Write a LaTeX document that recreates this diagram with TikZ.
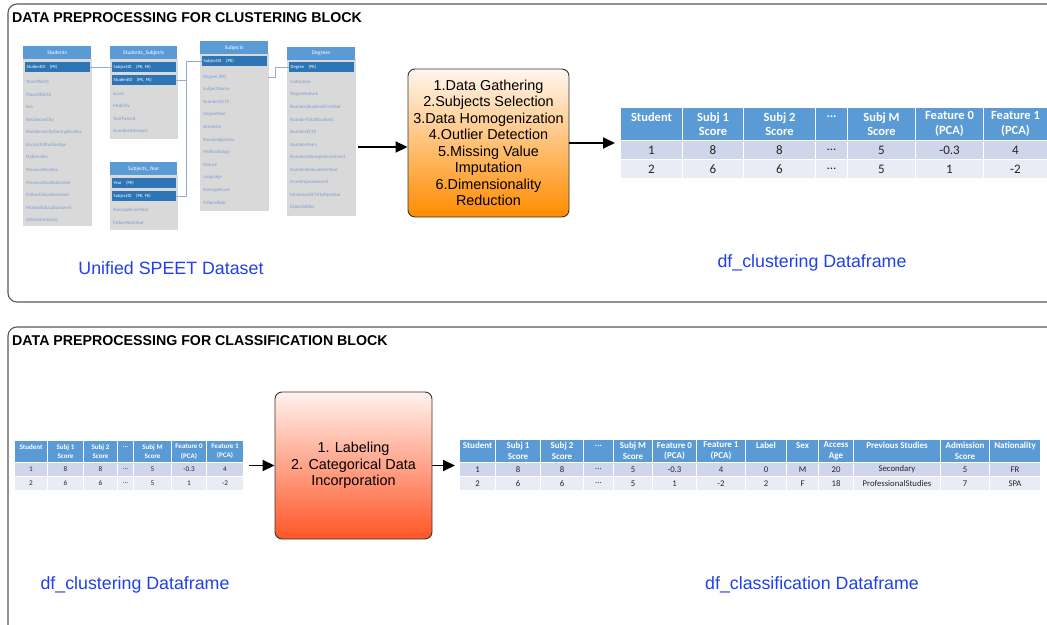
\documentclass[tikz,border=0pt]{standalone}
\usepackage{fontspec}
\setmainfont{Liberation Sans}
\newfontfamily\tabfont{Carlito}
\usetikzlibrary{positioning,arrows.meta}

\definecolor{hdrblue}{RGB}{91,155,213}
\definecolor{keyblue}{RGB}{46,117,182}
\definecolor{rowone}{RGB}{207,213,234}
\definecolor{rowtwo}{RGB}{233,235,245}
\definecolor{bodygray}{RGB}{217,217,217}
\definecolor{fieldtxt}{RGB}{125,155,212}
\definecolor{linkgray}{RGB}{150,172,205}
\definecolor{labelblue}{RGB}{32,64,235}
\definecolor{orangetop}{RGB}{255,246,238}
\definecolor{orangebot}{RGB}{255,140,0}
\definecolor{redtop}{RGB}{255,242,238}
\definecolor{redbot}{RGB}{255,85,38}

% dots in table cells (kept out of the \foreach lists)
\newcommand{\tdots}{...}
% one-line header that sits on the first of two lines
\newcommand{\oneline}[1]{#1\\\mbox{}}

\tikzset{
  panel/.style={draw=black!65, line width=1.1pt, rounded corners=9pt},
  panel_title/.style={anchor=west, inner sep=0pt, font=\bfseries\fontsize{14.2}{16}\selectfont},
  proc_box/.style={draw=black!80, line width=0.9pt, rounded corners=7pt, align=center, inner sep=0pt, font=\fontsize{14.4}{16.5}\selectfont},
  flow_arrow/.style={-{Triangle[length=12pt,width=11pt]}, line width=1.8pt},
  df_label/.style={text=labelblue, font=\fontsize{17.8}{20}\selectfont},
  % schema tables
  sch_body/.style={fill=bodygray, draw=white!85!black, line width=0.4pt, anchor=north west, inner sep=0pt},
  sch_head/.style={fill=hdrblue, text=white, anchor=north west, inner sep=0pt, minimum height=13pt, font=\tabfont\fontsize{5.5}{6}\selectfont},
  sch_key/.style={fill=keyblue, text=white, anchor=north west, inner xsep=2pt, inner ysep=0pt, minimum height=10pt, text width=#1, align=left, font=\tabfont\fontsize{4.6}{5}\selectfont},
  sch_field/.style={anchor=west, text=fieldtxt, inner sep=0pt, font=\tabfont\fontsize{4.9}{5}\selectfont},
  sch_link/.style={draw=linkgray, line width=0.8pt},
  % dataframe tables
  tab_cell/.style={draw=white, line width=1pt, anchor=north west, inner sep=0pt, align=center, text=black!85},
  tab_head/.style={tab_cell, fill=hdrblue, text=white},
  row_a/.style={tab_cell, fill=rowone},
  row_b/.style={tab_cell, fill=rowtwo},
  head_l/.style={font=\tabfont\bfseries\fontsize{12.5}{14.5}\selectfont},
  cell_l/.style={font=\tabfont\fontsize{13}{15}\selectfont},
  head_s/.style={font=\tabfont\bfseries\fontsize{7}{9.5}\selectfont},
  cell_s/.style={font=\tabfont\fontsize{7.2}{8}\selectfont},
  head_m/.style={font=\tabfont\bfseries\fontsize{9}{10.5}\selectfont},
  cell_m/.style={font=\tabfont\fontsize{8.7}{10}\selectfont}
}

\begin{document}
\begin{tikzpicture}[x=1pt,y=-1pt]

  \clip (0,0) rectangle (1047,624);
  \fill[white] (0,0) rectangle (1047,624);

  % the two blocks
  \draw[panel] (8,4) rectangle (1065,302);
  \draw[panel] (8,327) rectangle (1065,645);
  \node[panel_title] (clus-title) at (12,18) {DATA PREPROCESSING FOR CLUSTERING BLOCK};
  \node[panel_title] (class-title) at (12,341) {DATA PREPROCESSING FOR CLASSIFICATION BLOCK};

  % ---- SPEET schema ----
  % Students
  \node[sch_body, minimum width=68, minimum height=166] (stu) at (23,59) {};
  \node[sch_head, minimum width=68] (stu-h) at (23,46) {Students};
  \node[sch_key=61] (stu-k1) at (24.5,62) {StudentID\quad(PK)};
  \foreach \f [count=\i] in {YearOfBirth, PlaceOfBirth, Sex, ResidenceCity,
      ResidenceCityDuringStudies, AccessToStudiesAge, Nationality, PreviousStudies,
      PreviousStudiesCenter, FatherEducationLevel, MotherEducationLevel, AdmissionScore}
    \node[sch_field] (stu-f\i) at (26,69.5+12.55*\i) {\f};

  % Students_Subjects
  \node[sch_body, minimum width=67, minimum height=79] (ss) at (110,59) {};
  \node[sch_head, minimum width=67] (ss-h) at (110,46) {Students\_Subjects};
  \node[sch_key=60] (ss-k1) at (111.5,62) {SubjectID\quad(PK,\ FK)};
  \node[sch_key=60] (ss-k2) at (111.5,75) {StudentID\quad(PK,\ FK)};
  \foreach \f [count=\i] in {Score, Mobility, YearPassed, NumberAttempts}
    \node[sch_field] (ss-f\i) at (113,81.5+12.5*\i) {\f};

  % Subjects_Year
  \node[sch_body, minimum width=67, minimum height=54] (sy) at (110,175) {};
  \node[sch_head, minimum width=67] (sy-h) at (110,162) {Subjects\_Year};
  \node[sch_key=60] (sy-k1) at (111.5,178) {Year\quad(PK)};
  \node[sch_key=60] (sy-k2) at (111.5,191) {SubjectID\quad(PK,\ FK)};
  \foreach \f [count=\i] in {AverageScoreYear, FailureRateYear}
    \node[sch_field] (sy-f\i) at (113,197.5+12.5*\i) {\f};

  % Subjects
  \node[sch_body, minimum width=68, minimum height=157] (subj) at (200,53) {};
  \node[sch_head, minimum width=68] (subj-h) at (200,41) {Subjects};
  \node[sch_key=61] (subj-k1) at (201.5,56) {SubjectID\quad(PK)};
  \foreach \f [count=\i] in {Degree (FK), SubjectName, NumberECTS, DegreeYear, Semester,
      KnowledgeArea, Methodology, Nature, Language, AverageScore, FailureRate}
    \node[sch_field] (subj-f\i) at (203,64.4+12.6*\i) {\f};

  % Degrees
  \node[sch_body, minimum width=68, minimum height=156] (deg) at (287,59) {};
  \node[sch_head, minimum width=68] (deg-h) at (287,47) {Degrees};
  \node[sch_key=61] (deg-k1) at (288.5,62) {Degree\quad(PK)};
  \foreach \f [count=\i] in {Institution, DegreeNature, NumberStudentsFirstYear,
      NumberTotalStudents, NumberECTS, NumberYears, NumberAttemptsEnrolment,
      NumberEvaluationsYear, ScoreImprovement, MinimumECTSToPassYear, Especialities}
    \node[sch_field] (deg-f\i) at (290,69.5+12.5*\i) {\f};

  % schema links
  \draw[sch_link] (stu-k1.east) -- (ss-k1.west);
  \draw[sch_link] (ss-k2.east) -- ++(10,0) |- (subj-k1.west);
  \draw[sch_link] (sy-k2.east) -- ++(10,0) |- (subj-k1.west);
  \draw[sch_link] (subj.east |- subj-f1) -- ++(7,0) |- (deg-k1.west);

  % ---- clustering process ----
  \node[proc_box, minimum width=161, minimum height=148, top color=orangetop, bottom color=orangebot]
    (proc-clus) at (488.5,143) {1.Data Gathering\\2.Subjects Selection\\3.Data Homogenization\\4.Outlier Detection\\5.Missing Value\\Imputation\\6.Dimensionality\\Reduction};

  % df_clustering table (top)
  \foreach \x/\w/\hd/\a/\b [count=\i] in {
      620/62/{\oneline{Student}}/1/2,
      682/61/{Subj 1\\Score}/8/6,
      743/72/{Subj 2\\Score}/8/6,
      815/32/{\oneline{\tdots}}/{\tdots}/{\tdots},
      847/68/{Subj M\\Score}/5/5,
      915/68/{Feature 0\\(PCA)}/{-0.3}/1,
      983/64/{Feature 1\\(PCA)}/4/{-2}}
  {
    \node[tab_head, head_l, minimum width=\w, minimum height=33] (clus-h-\i) at (\x,107) {\hd};
    \node[row_a, cell_l, minimum width=\w, minimum height=19] (clus-a-\i) at (\x,140) {\a};
    \node[row_b, cell_l, minimum width=\w, minimum height=19] (clus-b-\i) at (\x,159) {\b};
  }

  \coordinate (schema-out) at (358,147);
  \draw[flow_arrow] (schema-out) -- (schema-out -| proc-clus.west);
  \draw[flow_arrow, shorten >=5pt] (proc-clus.east) -- (proc-clus.east -| clus-h-1.west);

  \node[df_label] (speet-lbl) at (171,268) {Unified SPEET Dataset};
  \node[df_label] (clus-lbl) at (812,263) {df\_clustering Dataframe};

  % ---- classification block ----
  % df_clustering table (small copy)
  \foreach \x/\w/\hd/\a/\b [count=\i] in {
      14/33/{\oneline{Student}}/1/2,
      47/36/{Subj 1\\Score}/8/6,
      83/34/{Subj 2\\Score}/8/6,
      117/16/{\oneline{\tdots}}/{\tdots}/{\tdots},
      133/38/{Subj M\\Score}/5/5,
      171/35/{Feature 0\\(PCA)}/{-0.3}/1,
      206/37/{Feature 1\\(PCA)}/4/{-2}}
  {
    \node[tab_head, head_s, minimum width=\w, minimum height=22] (clus2-h-\i) at (\x,440) {\hd};
    \node[row_a, cell_s, minimum width=\w, minimum height=14] (clus2-a-\i) at (\x,462) {\a};
    \node[row_b, cell_s, minimum width=\w, minimum height=14] (clus2-b-\i) at (\x,476) {\b};
  }

  \node[proc_box, minimum width=157, minimum height=147, top color=redtop, bottom color=redbot]
    (proc-class) at (353.5,465.5) {1. Labeling\\2. Categorical Data\\Incorporation};

  % df_classification table
  \foreach \x/\w/\hd/\a/\b [count=\i] in {
      459/36/{\oneline{Student}}/1/2,
      495/45/{Subj 1\\Score}/8/6,
      540/43/{Subj 2\\Score}/8/6,
      583/30/{\oneline{\tdots}}/{\tdots}/{\tdots},
      613/39/{Subj M\\Score}/5/5,
      652/44/{Feature 0\\(PCA)}/{-0.3}/1,
      696/49/{Feature 1\\(PCA)}/4/{-2},
      745/41/{\oneline{Label}}/0/2,
      786/32/{\oneline{Sex}}/M/F,
      818/35/{Access\\Age}/20/18,
      853/87/{\oneline{Previous Studies}}/Secondary/ProfessionalStudies,
      940/49/{Admission\\Score}/5/7,
      989/51/{\oneline{Nationality}}/FR/SPA}
  {
    \node[tab_head, head_m, minimum width=\w, minimum height=23] (class-h-\i) at (\x,439) {\hd};
    \node[row_a, cell_m, minimum width=\w, minimum height=14] (class-a-\i) at (\x,462) {\a};
    \node[row_b, cell_m, minimum width=\w, minimum height=14] (class-b-\i) at (\x,476) {\b};
  }

  \draw[flow_arrow, shorten <=5pt] (clus2-h-7.east |- proc-class.west) -- (proc-class.west);
  \draw[flow_arrow, shorten >=4pt] (proc-class.east) -- (proc-class.east -| class-h-1.west);

  \node[df_label] (clus2-lbl) at (135,585) {df\_clustering Dataframe};
  \node[df_label] (class-lbl) at (812,585) {df\_classification Dataframe};

\end{tikzpicture}
\end{document}
